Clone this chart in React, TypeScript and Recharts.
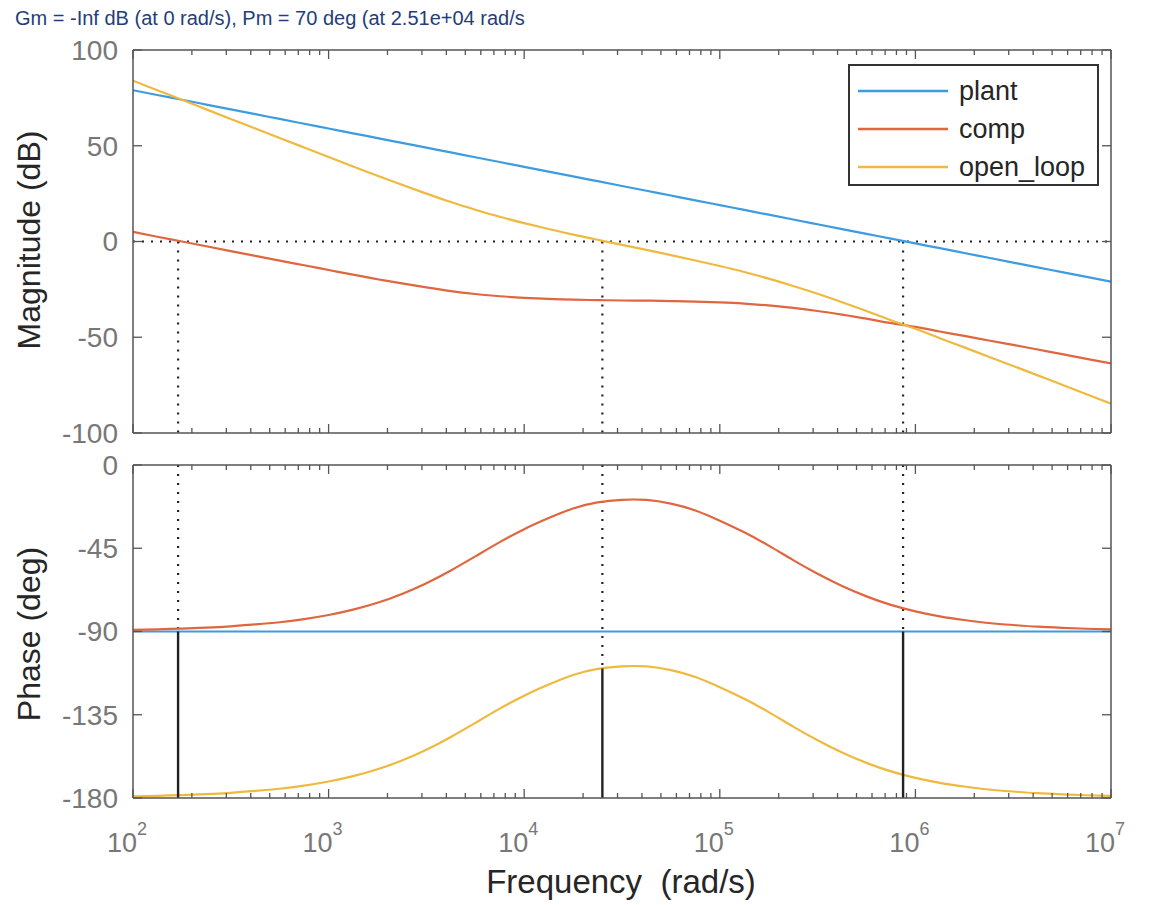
import React from 'react';
import { LineChart, Line, XAxis, YAxis, ReferenceLine } from 'recharts';

// frequency grid (rad/s), eighth decades from 1e2 to 1e7
const freqs = [
  100, 133, 178, 237, 316, 422, 562, 750, 1000, 1334, 1778, 2371, 3162, 4217, 5623, 7499,
  10000, 13335, 17783, 23714, 31623, 42170, 56234, 74989, 100000, 133352, 177828, 237137,
  316228, 421697, 562341, 749894, 1000000, 1333521, 1778279, 2371374, 3162278, 4216965,
  5623413, 7498942, 10000000,
];

// magnitude (dB)
const plantMag = [
  79, 76.5, 74, 71.5, 69, 66.5, 64, 61.5, 59, 56.5, 54, 51.5, 49, 46.5, 44, 41.5, 39, 36.5, 34, 31.5,
  29, 26.5, 24, 21.5, 19, 16.5, 14, 11.5, 9, 6.5, 4, 1.5, -1, -3.5, -6, -8.5, -11, -13.5, -16, -18.5, -21,
];
const compMag = [
  5, 2.5, 0, -2.5, -5, -7.5, -10, -12.4, -14.9, -17.3, -19.7, -21.9, -24, -25.9, -27.4, -28.6, -29.4,
  -30, -30.4, -30.6, -30.8, -30.9, -31.1, -31.4, -31.8, -32.4, -33.4, -34.7, -36.3, -38.2, -40.3,
  -42.6, -44.6, -47, -49.3, -51.7, -54, -56.4, -58.8, -61.3, -63.7,
];
const olMag = [
  84, 79, 74, 69, 64, 59, 54, 49.1, 44.1, 39.2, 34.3, 29.6, 25, 20.6, 16.6, 12.9, 9.6, 6.5, 3.6, 0.9,
  -1.8, -4.4, -7.1, -9.9, -12.8, -15.9, -19.4, -23.2, -27.3, -31.7, -36.3, -41.1, -45.6, -50.5, -55.3,
  -60.2, -65, -69.9, -74.8, -79.8, -84.7,
];

// phase (deg)
const plantPhase = [
  -90, -90, -90, -90, -90, -90, -90, -90, -90, -90, -90, -90, -90, -90, -90, -90, -90, -90, -90, -90,
  -90, -90, -90, -90, -90, -90, -90, -90, -90, -90, -90, -90, -90, -90, -90, -90, -90, -90, -90, -90, -90,
];
const compPhase = [
  -89.1, -88.8, -88.4, -87.9, -87.2, -86.2, -85, -83.3, -81.1, -78.2, -74.5, -69.7, -63.9, -57, -49.4,
  -41.7, -34.7, -28.7, -23.5, -20.2, -18.8, -18.9, -20.9, -24.6, -30.1, -36.4, -43.6, -51.4, -58.8,
  -65.4, -71, -75.6, -79.1, -81.8, -83.8, -85.4, -86.5, -87.4, -88, -88.5, -88.9,
];
const olPhase = [
  -179.1, -178.8, -178.4, -177.9, -177.2, -176.2, -175, -173.3, -171.1, -168.2, -164.5, -159.7, -153.9,
  -147, -139.4, -131.7, -124.7, -118.7, -113.5, -110.2, -108.8, -108.9, -110.9, -114.6, -120.1, -126.4,
  -133.6, -141.4, -148.8, -155.4, -161, -165.6, -169.1, -171.8, -173.8, -175.4, -176.5, -177.4, -178,
  -178.5, -178.9,
];

// crossover markers
const crossFreqs = [170, 25100, 865000];
const crossPhase = [-90, -110, -90];

const seriesKeys = ['plant', 'comp', 'ol'];
const seriesNames = ['plant', 'comp', 'open_loop'];
const seriesColors = ['#3d9be0', '#e0663f', '#efb93f'];

const decades = [100, 1000, 10000, 100000, 1000000, 10000000];
const magTicks = [-100, -50, 0, 50, 100];
const phaseTicks = [-180, -135, -90, -45, 0];

const xTicks: number[] = [];
decades.forEach((d, i) => {
  xTicks.push(d);
  if (i < decades.length - 1) for (let m = 2; m <= 9; m++) xTicks.push(d * m);
});

const magData = freqs.map((f, i) => ({ f, plant: plantMag[i], comp: compMag[i], ol: olMag[i] }));
const phaseData = freqs.map((f, i) => ({ f, plant: plantPhase[i], comp: compPhase[i], ol: olPhase[i] }));

const FONT = '"Liberation Sans", Arial, Helvetica, sans-serif';
const AXIS = '#555';
const MARK = '#222';

function FreqTick(props: any) {
  const { x, y, payload, side, label } = props;
  const lg = Math.log10(payload.value);
  const e = Math.round(lg);
  const major = Math.abs(lg - e) < 1e-6;
  const dir = side === 'top' ? 1 : -1;
  return (
    <g>
      <line x1={x} x2={x} y1={y} y2={y + dir * (major ? 9 : 5)} stroke={AXIS} strokeWidth={1.3} />
      {label && major && (
        <text x={x - 6} y={y + 54} textAnchor="middle" fill="#777" fontSize={27} fontFamily={FONT}>
          10<tspan dy={-17} fontSize={18}>{e}</tspan>
        </text>
      )}
    </g>
  );
}

function ValTick(props: any) {
  const { x, y, payload, side } = props;
  const dir = side === 'right' ? -1 : 1;
  return (
    <g>
      <line x1={x} x2={x + dir * 9} y1={y} y2={y} stroke={AXIS} strokeWidth={1.3} />
      {side !== 'right' && (
        <text x={x - 15} y={y} dy="0.35em" textAnchor="end" fill="#777" fontSize={28} fontFamily={FONT}>
          {payload.value}
        </text>
      )}
    </g>
  );
}

function axes(yTicks: number[], yDomain: [number, number], xLabels: boolean) {
  const common = { stroke: AXIS, strokeWidth: 1.5 };
  return [
    <XAxis key="xb" dataKey="f" type="number" scale="log" domain={[100, 10000000]} allowDataOverflow
      ticks={xTicks} interval={0} height={1} tickSize={0} tickMargin={0} tickLine={false}
      axisLine={common} tick={<FreqTick side="bottom" label={xLabels} />} />,
    <XAxis key="xt" xAxisId="top" orientation="top" dataKey="f" type="number" scale="log" domain={[100, 10000000]} allowDataOverflow
      ticks={xTicks} interval={0} height={1} tickSize={0} tickMargin={0} tickLine={false}
      axisLine={common} tick={<FreqTick side="top" />} />,
    <YAxis key="yl" type="number" domain={yDomain} allowDataOverflow ticks={yTicks} interval={0}
      width={60} tickSize={0} tickMargin={0} tickLine={false} axisLine={common} tick={<ValTick side="left" />} />,
    <YAxis key="yr" yAxisId="r" orientation="right" type="number" domain={yDomain} allowDataOverflow ticks={yTicks} interval={0}
      width={1} tickSize={0} tickMargin={0} tickLine={false} axisLine={common} tick={<ValTick side="right" />} />,
  ];
}

function series() {
  return seriesKeys.map((k, i) => (
    <Line key={k} dataKey={k} name={seriesNames[i]} type="natural" stroke={seriesColors[i]}
      strokeWidth={2.2} dot={false} activeDot={false} isAnimationActive={false} />
  ));
}

export default function App() {
  const dotted = { stroke: MARK, strokeWidth: 2.2, strokeDasharray: '2 7' };
  return (
    <div style={{ position: 'absolute', left: 0, top: 0, width: 1149, height: 905, background: '#fff', fontFamily: FONT }}>
      <div style={{ position: 'absolute', left: 15, top: 7, fontSize: 20, color: '#1f3e7a', whiteSpace: 'nowrap' }}>
        Gm = -Inf dB (at 0 rad/s), Pm = 70 deg (at 2.51e+04 rad/s
      </div>

      <div style={{ position: 'absolute', left: 0, top: 0 }}>
        <LineChart width={1149} height={450} data={magData} margin={{ top: 49, right: 37, bottom: 16, left: 73 }}>
          {axes(magTicks, [-100, 100], false)}
          <ReferenceLine y={0} {...dotted} />
          {crossFreqs.map((f) => (
            <ReferenceLine key={f} segment={[{ x: f, y: 0 }, { x: f, y: -100 }]} {...dotted} />
          ))}
          {series()}
        </LineChart>
      </div>

      <div style={{ position: 'absolute', left: 0, top: 450 }}>
        <LineChart width={1149} height={455} data={phaseData} margin={{ top: 14, right: 37, bottom: 106, left: 73 }}>
          {axes(phaseTicks, [-180, 0], true)}
          {crossFreqs.map((f, i) => (
            <ReferenceLine key={'d' + f} segment={[{ x: f, y: 0 }, { x: f, y: crossPhase[i] }]} {...dotted} />
          ))}
          {series()}
          {crossFreqs.map((f, i) => (
            <ReferenceLine key={'s' + f} segment={[{ x: f, y: crossPhase[i] }, { x: f, y: -180 }]} stroke={MARK} strokeWidth={2.4} />
          ))}
        </LineChart>
      </div>

      <svg width={1149} height={905} style={{ position: 'absolute', left: 0, top: 0, pointerEvents: 'none' }}>
        <text transform="translate(40,240) rotate(-90)" textAnchor="middle" fontSize={32} fill="#262626" fontFamily={FONT}>
          Magnitude (dB)
        </text>
        <text transform="translate(40,634) rotate(-90)" textAnchor="middle" fontSize={32} fill="#262626" fontFamily={FONT}>
          Phase (deg)
        </text>
        <text x={621} y={893} textAnchor="middle" fontSize={33} fill="#262626" fontFamily={FONT} style={{ whiteSpace: 'pre' }}>
          {'Frequency  (rad/s)'}
        </text>
      </svg>

      <div style={{ position: 'absolute', left: 848, top: 64, width: 251, height: 122, boxSizing: 'border-box', border: '2px solid #333', background: '#fff' }}>
        {seriesNames.map((n, i) => (
          <div key={n} style={{ position: 'absolute', left: 8, top: 6 + i * 38, height: 38, display: 'flex', alignItems: 'center' }}>
            <svg width={92} height={6}><line x1={0} x2={90} y1={3} y2={3} stroke={seriesColors[i]} strokeWidth={2.4} /></svg>
            <span style={{ marginLeft: 9, fontSize: 27, color: '#262626', lineHeight: '38px' }}>{n}</span>
          </div>
        ))}
      </div>
    </div>
  );
}
